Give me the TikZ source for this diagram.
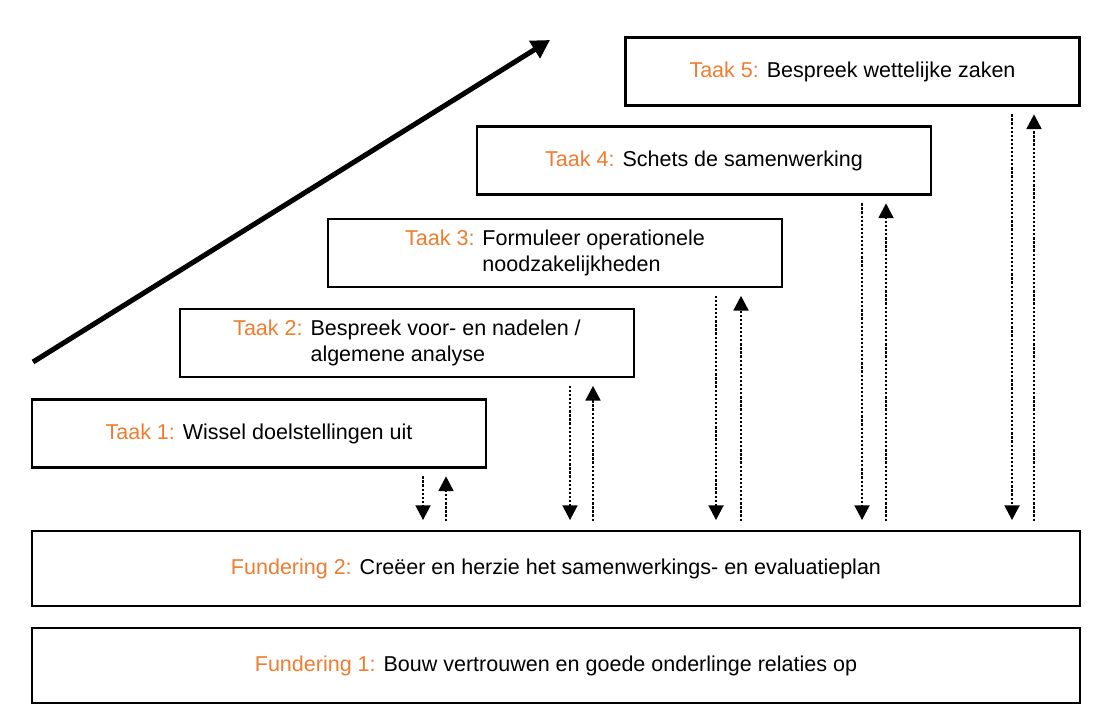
\documentclass[tikz,border=0pt]{standalone}
\usepackage{fontspec}
\setmainfont{Liberation Sans}
\usetikzlibrary{arrows.meta}
\definecolor{taakorange}{HTML}{ED7D31}
\newcommand\lbl[1]{\textcolor{taakorange}{#1}}

\begin{document}
\begin{tikzpicture}[scale=0.25,
		box/.style={draw=black, line width=1.5pt, fill=white, inner sep=2pt, font=\fontsize{15.3}{18.5}\selectfont},
		taak/.style={box, minimum width=11.35cm, minimum height=1.7cm},
		fund/.style={box, minimum width=26.2cm, minimum height=1.875cm},
		flowdown/.style={line width=1.8pt, dash pattern=on 1.6pt off 1.3pt, -{Triangle[width=10.5pt,length=10.5pt]}, shorten <=5.5pt, shorten >=7pt},
		flowup/.style={line width=1.8pt, dash pattern=on 1.6pt off 1.3pt, -{Triangle[width=10.5pt,length=10.5pt]}, shorten <=6.5pt, shorten >=5.5pt},
		groei/.style={line width=3.6pt, -{Triangle[width=14pt,length=13pt]}}]
		\useasboundingbox (0,0) rectangle (110.3,-71.7);
		% funderingen
		\node [fund] (f1) at (55.6,-66.55) {\lbl{Fundering 1:} Bouw vertrouwen en goede onderlinge relaties op};
		\node [fund] (f2) at (55.6,-56.85) {\lbl{Fundering 2:} Creëer en herzie het samenwerkings- en evaluatieplan};
		% taken
		\node [taak] (t1) at (25.9,-43.35) {\lbl{Taak 1:} Wissel doelstellingen uit};
		\node [taak] (t2) at (40.7,-34.3) {\begin{tabular}{@{}l@{ }l@{}}\lbl{Taak 2:} & Bespreek voor- en nadelen /\\ & algemene analyse\end{tabular}};
		\node [taak] (t3) at (55.5,-25.3) {\begin{tabular}{@{}l@{ }l@{}}\lbl{Taak 3:} & Formuleer operationele\\ & noodzakelijkheden\end{tabular}};
		\node [taak] (t4) at (70.4,-16.05) {\lbl{Taak 4:} Schets de samenwerking};
		\node [taak] (t5) at (85.25,-7.15) {\lbl{Taak 5:} Bespreek wettelijke zaken};
		% pijlen
		\foreach \n/\xd/\xu in {1/42.3/44.6, 2/57.0/59.3, 3/71.6/74.1, 4/86.2/88.6, 5/101.2/103.4} {
			\coordinate (d\n) at (\xd,0);
			\coordinate (u\n) at (\xu,0);
			\draw [flowdown] (t\n.south -| d\n) -- (f2.north -| d\n);
			\draw [flowup] (f2.north -| u\n) -- (t\n.south -| u\n);
		}
		\coordinate (g0) at (3.3,-36.2);
		\coordinate (g1) at (55.0,-4.0);
		\draw [groei] (g0) -- (g1);
	\end{tikzpicture}
\end{document}
